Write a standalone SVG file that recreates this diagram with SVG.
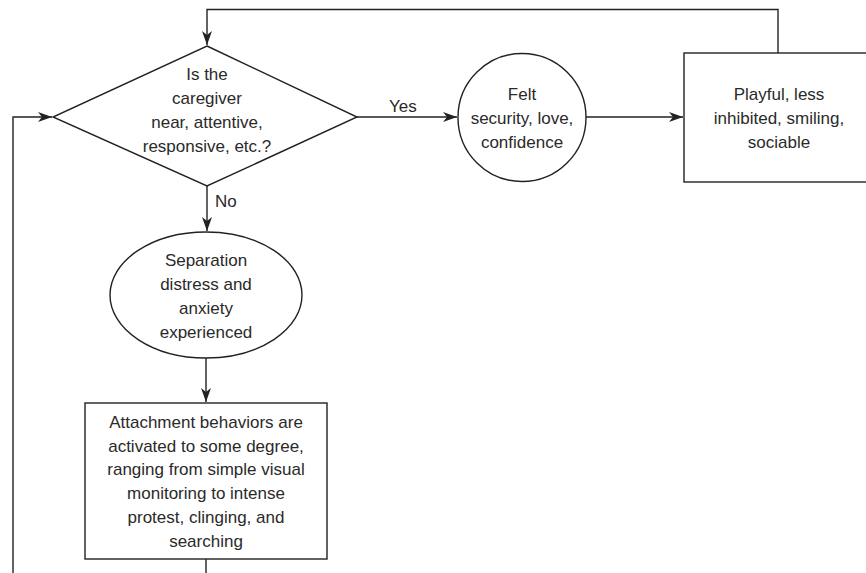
<svg xmlns="http://www.w3.org/2000/svg" width="866" height="573" viewBox="0 0 866 573">
<style>
.shape{fill:#fff;stroke:#222;stroke-width:1.4}
.conn{fill:none;stroke:#222;stroke-width:1.4}
text{font-family:"Liberation Sans",Arial,sans-serif;font-size:17px;fill:#2a2a2a;text-anchor:middle}
.lbl{text-anchor:start}
</style>
<defs>
<marker id="arr" markerUnits="userSpaceOnUse" markerWidth="16" markerHeight="12" refX="14" refY="6" orient="auto">
<path d="M0,1 L14,6 L0,11 L4,6 z" fill="#222"/>
</marker>
</defs>
<rect width="866" height="573" fill="#fff"/>
<g id="connectors">
<path class="conn" d="M778,53 V9.5 H207 V45" marker-end="url(#arr)"/>
<path class="conn" d="M357,117 H457" marker-end="url(#arr)"/>
<path class="conn" d="M586,117 H683" marker-end="url(#arr)"/>
<path class="conn" d="M207,186 V231" marker-end="url(#arr)"/>
<path class="conn" d="M206,358 V402" marker-end="url(#arr)"/>
<path class="conn" d="M206,559 V573"/>
<path class="conn" d="M13,573 V117 H52" marker-end="url(#arr)"/>
<text class="lbl" x="389" y="112">Yes</text>
<text class="lbl" x="215" y="207">No</text>
</g>
<g id="decision">
<polygon class="shape" points="207,46 357,117 207,186 53,117"/>
<text x="207" y="80">Is the</text>
<text x="207" y="104">caregiver</text>
<text x="207" y="128">near, attentive,</text>
<text x="207" y="152">responsive, etc.?</text>
</g>
<g id="felt-security">
<circle class="shape" cx="522" cy="117.5" r="64"/>
<text x="522" y="100">Felt</text>
<text x="522" y="124">security, love,</text>
<text x="522" y="148">confidence</text>
</g>
<g id="playful">
<rect class="shape" x="684" y="53" width="190" height="129"/>
<text x="779" y="100">Playful, less</text>
<text x="779" y="124">inhibited, smiling,</text>
<text x="779" y="148">sociable</text>
</g>
<g id="separation">
<ellipse class="shape" cx="206" cy="295" rx="96" ry="63"/>
<text x="206" y="266">Separation</text>
<text x="206" y="290">distress and</text>
<text x="206" y="314">anxiety</text>
<text x="206" y="338">experienced</text>
</g>
<g id="attachment">
<rect class="shape" x="85" y="403" width="242" height="156"/>
<text x="206" y="428">Attachment behaviors are</text>
<text x="206" y="452">activated to some degree,</text>
<text x="206" y="475">ranging from simple visual</text>
<text x="206" y="499">monitoring to intense</text>
<text x="206" y="523">protest, clinging, and</text>
<text x="206" y="547">searching</text>
</g>
</svg>
